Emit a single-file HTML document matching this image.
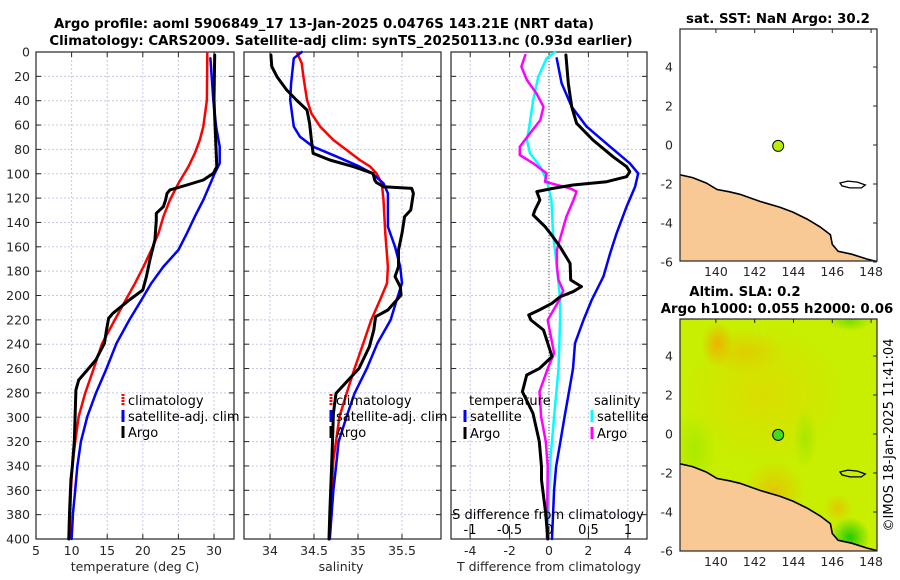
<!DOCTYPE html>
<html><head><meta charset="utf-8">
<style>
html,body{margin:0;padding:0;background:#fff;}
svg{display:block;font-family:"DejaVu Sans","Liberation Sans",sans-serif;}
.t{font-size:12.5px;fill:#262626;}
.ttl{font-size:13.3px;font-weight:bold;fill:#000;}
.lg{font-size:13px;fill:#000;}
</style></head>
<body>
<svg id="fig" width="900" height="580" viewBox="0 0 900 580" xmlns="http://www.w3.org/2000/svg">
<text class="ttl" x="324" y="28" text-anchor="middle">Argo profile: aoml 5906849_17 13-Jan-2025 0.0476S 143.21E (NRT data)</text>
<text class="ttl" x="341" y="45" text-anchor="middle">Climatology: CARS2009. Satellite-adj clim: synTS_20250113.nc (0.93d earlier)</text>
<text class="ttl" x="778" y="23" text-anchor="middle">sat. SST: NaN Argo: 30.2</text>
<text class="ttl" x="745" y="296" text-anchor="middle">Altim. SLA: 0.2</text>
<text class="ttl" x="777" y="313" text-anchor="middle">Argo h1000: 0.055 h2000: 0.06</text>
<text class="t" x="0" y="0" transform="translate(893,435) rotate(-90)" text-anchor="middle" style="font-size:13px;fill:#000">©IMOS 18-Jan-2025 11:41:04</text>
<g id="plots"></g>
</svg>
<script>
// ---------- data ----------
const depthTicks = [0,20,40,60,80,100,120,140,160,180,200,220,240,260,280,300,320,340,360,380,400];
const tempTicks = [5,10,15,20,25,30];
const salTicks = [34,34.5,35,35.5];
const salTickLabels = ["34","34.5","35","35.5"];
const tDiffTicks = [-4,-2,0,2,4];
const sDiffTicks = [-1,-0.5,0,0.5,1];
const sDiffTickLabels = ["-1","-0.5","0","0.5","1"];

const tempClimDepth = [1,39.4,61.3,72.3,83.2,94.2,107.9,121.6,135.2,148.9,162.6,176.3,190,203.7,220.1,239.3,260,280.4,299.5,320,340.6,359.8,378.9,400];
const tempClimVal   = [29.06,29,28.5,28.0,27.3,26.4,25,23.8,22.9,22.2,21.2,20.1,18.9,17.6,16.05,14.3,13.1,11.9,11.0,10.5,10.1,9.9,9.8,9.7];
const tempSatDepth  = [5.2,39.4,61.3,77.8,91.4,99.7,110.6,121.6,135.2,148.9,162.6,176.3,190,203.7,220.1,239.3,260,280.4,299.5,320,340.6,359.8,378.9,400];
const tempSatVal    = [29.5,29.9,30.3,30.8,30.8,30.1,29.3,28.5,27.3,26.2,25,22.9,21.2,19.8,18.1,16.3,14.9,13.4,12.2,11.3,10.8,10.5,10.2,10.0];
const tempArgoDepth = [2.5,39.4,80.5,94.2,99.7,105.1,109.2,113.3,116.1,121.6,127,132.5,138,154.4,170.8,184.5,195.5,203.7,214.6,218.8,228.3,239.3,253,261.2,269.4,277.6,296.8,318.7,340.6,351.5,378.9,400];
const tempArgoVal   = [30.1,30,30.3,30.4,29.9,28.5,26.2,23.8,23.4,23.2,22.9,21.9,21.9,21.7,21.0,20.5,20.0,18.1,15.8,15.2,14.9,14.6,13.4,12.2,11.0,10.6,10.5,10.4,10.1,9.9,9.7,9.6];

const salClimDepth = [1.1,9.3,20.3,39.4,50.4,61.3,72.3,80.5,88.7,94.2,99.7,107.9,121.6,148.9,176.3,190,203.7,220.1,239.3,260,280.4,299.5,320,335.1,359.8,400];
const salClimVal   = [34.31,34.36,34.38,34.42,34.47,34.57,34.72,34.87,35.02,35.14,35.21,35.27,35.29,35.31,35.34,35.33,35.25,35.15,35.06,34.96,34.87,34.79,34.75,34.72,34.70,34.67];
const salSatDepth  = [0,5.2,25.7,39.4,61.3,69.5,77.8,86,94.2,99.7,107.9,116.1,127,143.5,159.9,176.3,190,203.7,220.1,239.3,260,280.4,299.5,320,340.6,359.8,400];
const salSatVal    = [34.36,34.27,34.24,34.23,34.27,34.34,34.49,34.76,35.02,35.16,35.29,35.34,35.34,35.34,35.42,35.48,35.5,35.44,35.37,35.22,35.1,34.96,34.87,34.78,34.75,34.72,34.68];
const salArgoDepth = [2.5,12,20.3,31.2,39.4,47.6,58.6,72.3,83.2,88.7,94.2,99.7,105.1,107.3,110.6,112,116.1,129.8,135.2,148.9,162.6,176.3,184.5,192.7,199.6,211.9,217.4,228.3,242,260,269.4,280.4,296.8,320,340.6,378.9,400];
const salArgoVal   = [34.01,34.02,34.08,34.19,34.3,34.42,34.45,34.47,34.49,34.68,34.95,35.17,35.19,35.21,35.29,35.61,35.63,35.6,35.53,35.5,35.46,35.46,35.42,35.48,35.49,35.34,35.2,35.18,35.13,35.01,34.89,34.75,34.72,34.71,34.70,34.68,34.67];

const tDiffSatDepth  = [5.2,25.7,44.9,61.3,77.8,91.4,99.7,110.6,127,148.9,165.4,184.5,203.7,220.1,239.3,260,280.4,299.5,320,340.6,359.8,400];
const tDiffSatVal    = [0.39,0.64,1.15,1.91,3.1,4.1,4.53,4.37,3.94,3.43,3.1,2.76,2.17,1.75,1.32,1.22,1.0,0.79,0.58,0.36,0.26,0.15];
const tDiffArgoDepth = [2.5,25.7,44.9,58.6,72.3,86,94.2,98.3,102.4,106.5,109.2,112,114.7,121.6,129.8,133.9,143.5,151.7,159.9,173.6,187.3,192.7,196.9,200.9,206.4,211.9,216,220.1,228.3,239.3,250.2,260,265.3,279,296.8,320,340.6,351.5,378.9,400];
const tDiffArgoVal   = [0.86,0.98,1.15,1.4,2.23,3.25,3.94,4.1,3.94,2.93,1.22,0.2,-0.62,-0.46,-0.71,-0.8,-0.2,0.2,0.56,1.07,1.1,1.65,1.22,0.58,0.15,-0.49,-1.03,-0.92,-0.28,-0.06,0.15,-0.49,-1.13,-1.35,-0.81,-0.49,-0.38,-0.38,-0.17,-0.06];
const sDiffSatDepth  = [0,5.2,20.3,39.4,61.3,72.3,83.2,94.2,105.1,121.6,148.9,176.3,203.7,220.1,260,299.5,340.6,400];
const sDiffSatVal    = [0.076,-0.03,-0.135,-0.2,-0.25,-0.28,-0.24,-0.11,-0.03,0.03,0.05,0.1,0.14,0.14,0.12,0.064,0.01,-0.016];
const sDiffArgoDepth = [2.5,12,23,34,44.9,55.9,66.8,77.8,84.6,91.4,99.7,106.5,112,114.7,121.6,135.2,148.9,162.6,176.3,187.3,196,203.7,220.1,239.3,247.5,260,279,299.5,320,340.6,400];
const sDiffArgoVal   = [-0.3,-0.35,-0.28,-0.16,-0.07,-0.11,-0.24,-0.37,-0.37,-0.2,-0.03,-0.05,0.27,0.35,0.31,0.22,0.16,0.1,0.1,0.12,0.18,0.13,-0.016,0.04,0.064,-0.016,-0.12,-0.1,-0.04,-0.016,-0.027];

const lonTicks = [140,142,144,146,148];
const latTicks = [4,2,0,-2,-4,-6];
const argoLon = 143.21, argoLat = -0.0476;
const coastLon = [138.1,138.8,139.5,140.06,140.7,141.24,142.27,143.3,143.97,144.7,145.37,145.9,146.0,146.3,147.0,147.8,148.4,148.4,138.1];
const coastLat = [-1.52,-1.67,-1.95,-2.28,-2.4,-2.53,-2.89,-3.19,-3.44,-3.8,-4.2,-4.6,-5.1,-5.45,-5.6,-5.85,-6.0,-6.2,-6.2];
const islandLon = [146.4,146.8,147.3,147.7,147.5,146.9,146.5];
const islandLat = [-1.95,-1.85,-1.9,-2.05,-2.2,-2.2,-2.1];

// ---------- helpers ----------
const NS="http://www.w3.org/2000/svg";
const root=document.getElementById('plots');
function mk(tag,attrs,parent){const e=document.createElementNS(NS,tag);for(const k in attrs)e.setAttribute(k,attrs[k]);(parent||root).appendChild(e);return e;}
const Y0=52, Y1=539;
const yD = d => Y0 + d*(Y1-Y0)/400;
const xT = t => 36 + (t-5)*7.12;
const xS = s => 270 + (s-34)*88;
const xTD = v => 549 + v*19.7;
const xSD = v => 549 + v*79;

function panel(x0,x1,name){
  const g=mk('g',{});
  
  
  return g;
}
function hgrid(g,x0,x1){
  depthTicks.forEach(d=>{
    const l=mk('line',{x1:x0,x2:x1,y1:yD(d),y2:yD(d),stroke:'#c5c9e6','stroke-width':1,'stroke-dasharray':'2,2'},g);
    
    
    mk('line',{x1:x0,x2:x0+5,y1:yD(d),y2:yD(d),stroke:'#262626'},g);
    mk('line',{x1:x1-5,x2:x1,y1:yD(d),y2:yD(d),stroke:'#262626'},g);
  });
}
function vgrid(g,xs,x0,x1){
  xs.forEach(x=>{
    if(x<=x0+1||x>=x1-1)return;
    const l=mk('line',{x1:x,x2:x,y1:Y0,y2:Y1,stroke:'#c5c9e6','stroke-width':1,'stroke-dasharray':'2,2'},g);
    
    
    mk('line',{x1:x,x2:x,y1:Y1,y2:Y1-5,stroke:'#262626'},g);
    mk('line',{x1:x,x2:x,y1:Y0,y2:Y0+5,stroke:'#262626'},g);
  });
}
function box(g,x0,x1){
  const r=mk('rect',{x:x0,y:Y0,width:x1-x0,height:Y1-Y0,fill:'none',stroke:'#262626','stroke-width':1.2},g);
  
  
}
function series(g,depths,vals,xf,color,w,name){
  const pts=depths.map((d,i)=>xf(vals[i]).toFixed(1)+','+yD(d).toFixed(1)).join(' ');
  const p=mk('polyline',{points:pts,fill:'none',stroke:color,'stroke-width':w,'stroke-linejoin':'round','stroke-linecap':'round'},g);
  
  
}
function txt(g,x,y,s,cls,anchor,name){
  const t=mk('text',{x:x,y:y,class:cls,'text-anchor':anchor||'middle'},g);
  t.textContent=s;
  
  
  return t;
}
function legend(g,x,y,color,label,dotted,name){
  const m=mk('line',{x1:x,x2:x,y1:y-11,y2:y+1,stroke:color,'stroke-width':3,'stroke-dasharray':dotted?'2,1':'none'},g);
  
  
  txt(g,x+5,y,label,'lg','start',name);
}

// ---------- panel 1: temperature ----------
const g1=panel(36,234,'temperature-panel');
hgrid(g1,36,234); vgrid(g1,tempTicks.map(xT),36,234); box(g1,36,234);
depthTicks.forEach(d=>txt(g1,30,yD(d)+4.5,String(d),'t','end','depth-tick-label'));
tempTicks.forEach(t=>txt(g1,xT(t),555,String(t),'t','middle','temp-tick-label'));
txt(g1,135,571,'temperature (deg C)','t','middle','temperature-x-axis-title');
series(g1,tempClimDepth,tempClimVal,xT,'#ff0000',2.5,'temp-climatology-line');
series(g1,tempSatDepth,tempSatVal,xT,'#0000ff',2.5,'temp-satellite-line');
series(g1,tempArgoDepth,tempArgoVal,xT,'#000000',3,'temp-argo-line');
legend(g1,123,405,'#ff0000','climatology',true,'legend-climatology');
legend(g1,123,421,'#0000ff','satellite-adj. clim',false,'legend-satellite-adj');
legend(g1,123,437,'#000000','Argo',false,'legend-argo');

// ---------- panel 2: salinity ----------
const g2=panel(244,441,'salinity-panel');
hgrid(g2,244,441); vgrid(g2,salTicks.map(xS),244,441); box(g2,244,441);
salTicks.forEach((s,i)=>txt(g2,xS(s),555,salTickLabels[i],'t','middle','salinity-tick-label'));
txt(g2,341,571,'salinity','t','middle','salinity-x-axis-title');
series(g2,salClimDepth,salClimVal,xS,'#ff0000',2.5,'sal-climatology-line');
series(g2,salSatDepth,salSatVal,xS,'#0000ff',2.5,'sal-satellite-line');
series(g2,salArgoDepth,salArgoVal,xS,'#000000',3,'sal-argo-line');
legend(g2,331,405,'#ff0000','climatology',true,'legend-climatology-2');
legend(g2,331,421,'#0000ff','satellite-adj. clim',false,'legend-satellite-adj-2');
legend(g2,331,437,'#000000','Argo',false,'legend-argo-2');

// ---------- panel 3: differences ----------
const g3=panel(451,647,'difference-panel');
hgrid(g3,451,647); vgrid(g3,tDiffTicks.map(xTD),451,647); box(g3,451,647);
const zl=mk('line',{x1:xTD(0),x2:xTD(0),y1:Y0,y2:Y1,stroke:'#555','stroke-width':1,'stroke-dasharray':'1,2'},g3);


tDiffTicks.forEach(t=>txt(g3,xTD(t),555,String(t),'t','middle','tdiff-tick-label'));
txt(g3,549,571,'T difference from climatology','t','middle','tdiff-x-axis-title');
series(g3,tDiffSatDepth,tDiffSatVal,xTD,'#0000ff',2.5,'tdiff-satellite-line');
series(g3,sDiffSatDepth,sDiffSatVal,xSD,'#00ffff',2.5,'sdiff-satellite-line');
series(g3,sDiffArgoDepth,sDiffArgoVal,xSD,'#ff00ff',2.5,'sdiff-argo-line');
series(g3,tDiffArgoDepth,tDiffArgoVal,xTD,'#000000',3,'tdiff-argo-line');
txt(g3,469,405,'temperature','lg','start','legend-temperature-heading');
txt(g3,594,405,'salinity','lg','start','legend-salinity-heading');
legend(g3,465,421,'#0000ff','satellite',false,'legend-t-satellite');
legend(g3,465,438,'#000000','Argo',false,'legend-t-argo');
legend(g3,592,421,'#00ffff','satellite',false,'legend-s-satellite');
legend(g3,592,438,'#ff00ff','Argo',false,'legend-s-argo');
txt(g3,548,519,'S difference from climatology','lg','middle','sdiff-axis-title');
sDiffTicks.forEach((s,i)=>{
  txt(g3,xSD(s),534,sDiffTickLabels[i],'lg','middle','sdiff-tick-label');
  mk('line',{x1:xSD(s),x2:xSD(s),y1:526,y2:537,stroke:'#262626'},g3);
});

// ---------- maps ----------
const MX0=680, MX1=877;
const xL = lon => MX0 + (lon-138.15)*19.4;
function mapPanel(top,bottom,zeroY,name,field,dotColor){
  const g=panel(MX0,MX1,name);
  const yL = lat => zeroY - lat*19.5;
  const cid='clip-'+name;
  const cp=mk('clipPath',{id:cid},g);
  mk('rect',{x:MX0,y:top,width:MX1-MX0,height:bottom-top},cp);
  const inner=mk('g',{'clip-path':'url(#'+cid+')'},g);
  if(field){
    mk('rect',{x:MX0,y:top,width:MX1-MX0,height:bottom-top,fill:'#c8ee00'},inner);
    const defs=mk('defs',{},g);
    const blobs=[['y1','#dcdc00',142.5,2.0,80,70],['o1','#f2a800',140.1,4.6,16,22],['o2','#e6c200',143.0,-3.0,30,32],['o3','#e0cc00',141.5,4.2,40,22],['o4','#e3c600',146.3,-3.8,14,14],['gr1','#11c800',146.9,-5.3,20,20],['gr2','#6fdc00',146.9,5.8,22,10],['gr3','#a8e800',138.9,-0.8,22,40],['gr4','#a4e600',144.6,-0.2,12,30]];
    blobs.forEach(b=>{
      const rg=mk('radialGradient',{id:name+b[0]},defs);
      mk('stop',{offset:'0%','stop-color':b[1],'stop-opacity':0.9},rg);
      mk('stop',{offset:'100%','stop-color':b[1],'stop-opacity':0},rg);
      const e=mk('ellipse',{cx:xL(b[2]),cy:yL(b[3]),rx:b[4],ry:b[5],fill:'url(#'+name+b[0]+')'},inner);
      
      
    });
  }
  const land=mk('polygon',{points:coastLon.map((l,i)=>xL(l).toFixed(1)+','+yL(coastLat[i]).toFixed(1)).join(' '),fill:'#f9c995',stroke:'#000','stroke-width':1.6},inner);
  
  
  const isl=mk('polygon',{points:islandLon.map((l,i)=>xL(l).toFixed(1)+','+yL(islandLat[i]).toFixed(1)).join(' '),fill:field?'#c8ee00':'#fff',stroke:'#000','stroke-width':1.3},inner);
  
  
  const r=mk('rect',{x:MX0,y:top,width:MX1-MX0,height:bottom-top,fill:'none',stroke:'#262626','stroke-width':1.2},g);
  
  
  latTicks.forEach(l=>{
    const y=yL(l); if(y<top-1||y>bottom+2)return;
    mk('line',{x1:MX1,x2:MX1-4,y1:y,y2:y,stroke:'#262626'},g);
    txt(g,673,y+4.5,String(l),'t','end','lat-tick-label');
  });
  lonTicks.forEach(l=>{
    const x=xL(l);
    mk('line',{x1:x,x2:x,y1:top,y2:top+4,stroke:'#262626'},g);
    txt(g,x,bottom+15,String(l),'t','middle','lon-tick-label');
  });
  const dot=mk('circle',{cx:xL(argoLon),cy:yL(argoLat),r:5.5,fill:dotColor,stroke:'#000','stroke-width':1},g);
  
  
}
mapPanel(29,261,145,'sst-map',false,'#b8ee00');
mapPanel(319,551,434,'sla-map',true,'#3fdc22');
</script>
</body></html>
